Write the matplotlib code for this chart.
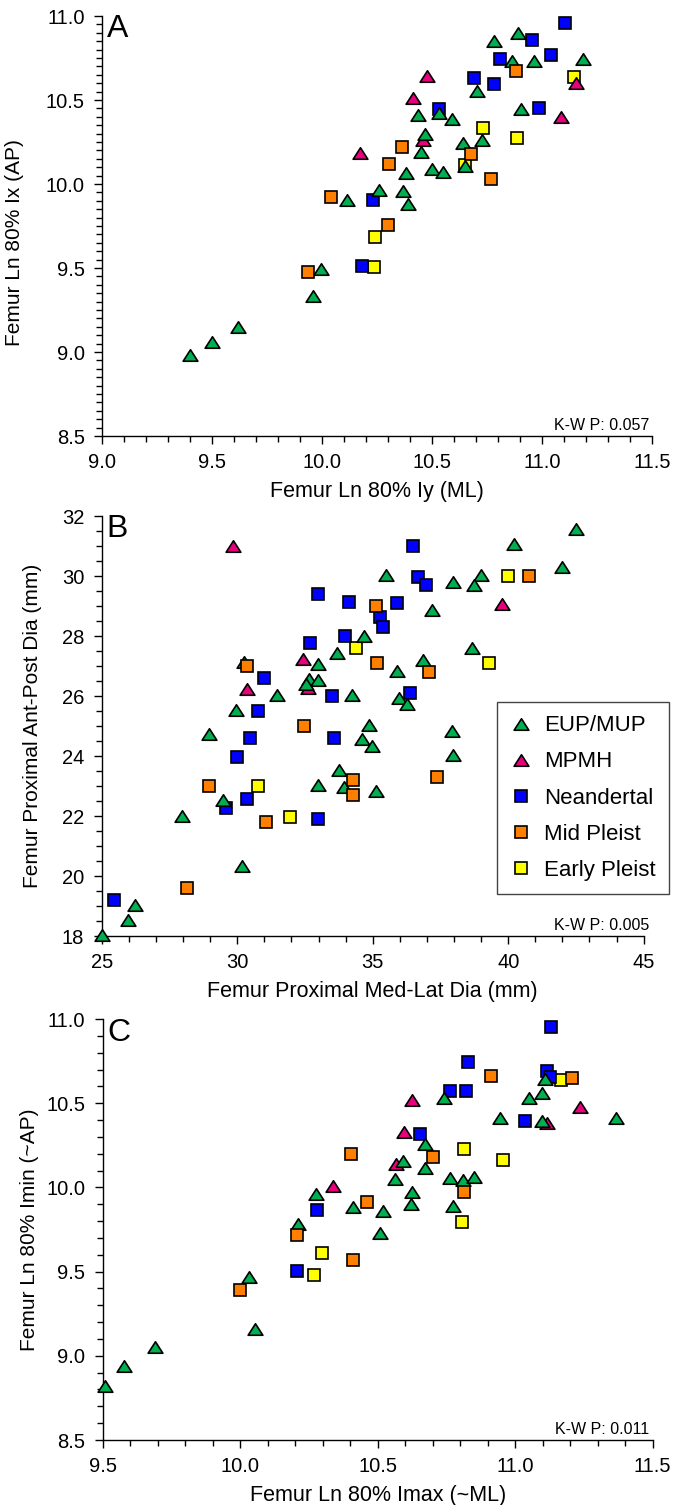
import matplotlib
matplotlib.use("Agg")
import matplotlib.pyplot as plt
from matplotlib.path import Path
from matplotlib.lines import Line2D
from matplotlib.ticker import MultipleLocator

plt.rcParams['font.family'] = ['Liberation Sans', 'DejaVu Sans']

groups = ["EUP/MUP", "MPMH", "Neandertal", "Mid Pleist", "Early Pleist"]

# ---------------- Panel A ----------------
a_eup_x = [10.112, 9.997, 9.959, 9.40, 9.50, 9.62, 10.892, 10.783, 10.862, 10.965, 11.187, 10.705,
           10.438, 10.532, 10.589, 10.904, 10.470, 10.450, 10.639, 10.727, 10.499, 10.552, 10.652,
           10.382, 10.257, 10.367, 10.390]
a_eup_y = [9.904, 9.497, 9.336, 8.98, 9.06, 9.15, 10.897, 10.853, 10.734, 10.732, 10.742, 10.553,
           10.412, 10.420, 10.385, 10.444, 10.295, 10.188, 10.246, 10.261, 10.089, 10.073, 10.108,
           10.063, 9.962, 9.960, 9.882]
a_mpmh_x = [10.172, 10.479, 11.155, 10.413, 11.087, 10.458]
a_mpmh_y = [10.182, 10.645, 10.603, 10.512, 10.397, 10.261]
a_nean_x = [10.231, 10.181, 11.104, 10.956, 10.810, 11.043, 10.692, 10.782, 10.534, 10.986]
a_nean_y = [9.904, 9.513, 10.958, 10.857, 10.742, 10.770, 10.631, 10.595, 10.446, 10.454]
a_mid_x = [10.040, 9.936, 10.883, 10.363, 10.677, 10.304, 10.769, 10.299]
a_mid_y = [9.924, 9.477, 10.672, 10.220, 10.180, 10.117, 10.031, 9.755]
a_early_x = [10.240, 10.235, 11.146, 10.732, 10.886, 10.652]
a_early_y = [9.682, 9.507, 10.635, 10.333, 10.273, 10.111]

# ---------------- Panel B ----------------
b_eup_x = [34.68, 33.67, 32.98, 30.24, 32.64, 32.98, 32.54, 31.48, 34.24, 29.97, 34.87, 28.97,
           34.62, 34.99, 33.77, 32.97, 33.95, 35.11, 29.46, 27.97, 30.18, 26.23, 25.98, 25.0,
           42.49, 40.23, 35.48, 37.97, 39.0, 38.74, 41.97, 37.18, 38.68, 36.87, 35.89, 35.98,
           36.28, 37.94, 37.97]
b_eup_y = [28.0, 27.44, 27.06, 27.12, 26.57, 26.53, 26.4, 26.03, 26.03, 25.53, 25.03, 24.73,
           24.58, 24.33, 23.53, 23.02, 22.98, 22.84, 22.53, 22.01, 20.33, 19.03, 18.53, 18.03,
           31.56, 31.06, 30.03, 29.81, 30.04, 29.7, 30.31, 28.87, 27.61, 27.2, 26.84, 25.94,
           25.73, 24.84, 24.02]
b_mpmh_x = [29.83, 32.42, 32.62, 30.37, 39.78]
b_mpmh_y = [31.0, 27.24, 26.28, 26.24, 29.06]
b_nean_x = [32.98, 34.13, 35.27, 35.37, 33.98, 32.68, 30.98, 33.49, 30.78, 30.48, 33.58, 29.98,
            30.37, 29.58, 32.98, 25.47, 36.48, 36.68, 36.98, 35.89, 36.38]
b_nean_y = [29.39, 29.14, 28.62, 28.3, 28.0, 27.76, 26.59, 26.0, 25.5, 24.59, 24.59, 23.98,
            22.58, 22.28, 21.89, 19.19, 31.0, 29.96, 29.7, 29.09, 26.1]
b_mid_x = [35.13, 30.37, 32.48, 34.27, 34.27, 28.97, 31.07, 28.16, 40.78, 35.17, 37.09, 37.37]
b_mid_y = [29.0, 27.0, 25.0, 23.19, 22.69, 22.99, 21.79, 19.59, 30.0, 27.1, 26.8, 23.31]
b_early_x = [34.37, 30.78, 31.96, 39.98, 39.29]
b_early_y = [27.61, 22.99, 21.98, 30.0, 27.09]

# ---------------- Panel C ----------------
c_eup_x = [10.276, 10.409, 10.519, 10.509, 10.211, 10.033, 10.054, 9.507, 9.576, 9.690, 11.108,
           11.097, 11.051, 11.367, 10.741, 10.944, 11.096, 10.672, 10.593, 10.671, 10.563, 10.763,
           10.809, 10.849, 10.624, 10.621, 10.775]
c_eup_y = [9.963, 9.882, 9.862, 9.728, 9.783, 9.465, 9.158, 8.818, 8.942, 9.052, 10.642,
           10.563, 10.529, 10.414, 10.529, 10.412, 10.395, 10.256, 10.155, 10.118, 10.049, 10.056,
           10.045, 10.062, 9.975, 9.904, 9.892]
c_mpmh_x = [10.339, 11.237, 10.626, 11.115, 10.595, 10.568]
c_mpmh_y = [10.011, 10.480, 10.519, 10.385, 10.329, 10.139]
c_nean_x = [10.278, 10.205, 11.130, 10.829, 11.116, 11.128, 10.764, 10.822, 11.037, 10.655]
c_nean_y = [9.866, 9.504, 10.954, 10.745, 10.693, 10.658, 10.573, 10.573, 10.395, 10.318]
c_mid_x = [10.402, 10.460, 10.205, 10.409, 10.0, 10.912, 11.208, 10.700, 10.815]
c_mid_y = [10.197, 9.912, 9.718, 9.570, 9.393, 10.662, 10.650, 10.179, 9.971]
c_early_x = [10.297, 10.269, 11.167, 10.815, 10.957, 10.808]
c_early_y = [9.609, 9.479, 10.636, 10.228, 10.165, 9.795]

kw_texts = ["K-W P: 0.057", "K-W P: 0.005", "K-W P: 0.011"]
panel_letters = ["A", "B", "C"]
xlabels = ["Femur Ln 80% Iy (ML)", "Femur Proximal Med-Lat Dia (mm)", "Femur Ln 80% Imax (~ML)"]
ylabels = ["Femur Ln 80% Ix (AP)", "Femur Proximal Ant-Post Dia (mm)", "Femur Ln 80% Imin (~AP)"]

# ---------------- styling ----------------
tri = Path([(0, 0.78), (-1, -0.78), (1, -0.78), (0, 0.78)],
           [Path.MOVETO, Path.LINETO, Path.LINETO, Path.CLOSEPOLY])
colors = {"EUP/MUP": "#00B050", "MPMH": "#E8007D", "Neandertal": "#0000FF",
          "Mid Pleist": "#FF7F00", "Early Pleist": "#FFFF00"}
markers = {"EUP/MUP": tri, "MPMH": tri, "Neandertal": "s", "Mid Pleist": "s", "Early Pleist": "s"}
msize = {"EUP/MUP": 10.6, "MPMH": 10.6, "Neandertal": 8.0, "Mid Pleist": 8.0, "Early Pleist": 8.0}
draw_order = ["Early Pleist", "Neandertal", "MPMH", "EUP/MUP", "Mid Pleist"]

W, H = 681, 1505
fig = plt.figure(figsize=(W / 100, H / 100), dpi=100)


def add_axes(l, r, t, b):
    return fig.add_axes([l / W, 1 - b / H, (r - l) / W, (b - t) / H])


axA = add_axes(102, 652, 16, 436)
axB = add_axes(101.7, 643.7, 516, 936)
axC = add_axes(102.7, 652.7, 1019, 1440)

data = [
    {"EUP/MUP": (a_eup_x, a_eup_y), "MPMH": (a_mpmh_x, a_mpmh_y), "Neandertal": (a_nean_x, a_nean_y),
     "Mid Pleist": (a_mid_x, a_mid_y), "Early Pleist": (a_early_x, a_early_y)},
    {"EUP/MUP": (b_eup_x, b_eup_y), "MPMH": (b_mpmh_x, b_mpmh_y), "Neandertal": (b_nean_x, b_nean_y),
     "Mid Pleist": (b_mid_x, b_mid_y), "Early Pleist": (b_early_x, b_early_y)},
    {"EUP/MUP": (c_eup_x, c_eup_y), "MPMH": (c_mpmh_x, c_mpmh_y), "Neandertal": (c_nean_x, c_nean_y),
     "Mid Pleist": (c_mid_x, c_mid_y), "Early Pleist": (c_early_x, c_early_y)},
]

limits = [((9.0, 11.5), (8.5, 11.0)), ((25, 45), (18, 32)), ((9.5, 11.5), (8.5, 11.0))]
majors = [((0.5, 0.1), (0.5, 0.05)), ((5, 1), (2, 0.5)), ((0.5, 0.1), (0.5, 0.1))]
fmts = [("{:.1f}", "{:.1f}"), ("{:.0f}", "{:.0f}"), ("{:.1f}", "{:.1f}")]
ylabel_x = [-0.142, -0.11, -0.115]
ylabel_y = [0.46, 0.5, 0.5]
letter_pos = [(107, 14), (106, 514), (107, 1018)]
kw_pos = [(649, 433), (649, 933), (649, 1437)]

for i, ax in enumerate([axA, axB, axC]):
    for g in draw_order:
        x, y = data[i][g]
        ax.plot(x, y, linestyle="none", marker=markers[g], markersize=msize[g],
                markerfacecolor=colors[g], markeredgecolor="black", markeredgewidth=1.2,
                clip_on=False, zorder=3)
    (x0, x1), (y0, y1) = limits[i]
    ax.set_xlim(x0, x1)
    ax.set_ylim(y0, y1)
    ax.spines["top"].set_visible(False)
    ax.spines["right"].set_visible(False)
    for s in ("left", "bottom"):
        ax.spines[s].set_linewidth(1.0)
    (xm, xn), (ym, yn) = majors[i]
    ax.xaxis.set_major_locator(MultipleLocator(xm))
    ax.xaxis.set_minor_locator(MultipleLocator(xn))
    ax.yaxis.set_major_locator(MultipleLocator(ym))
    ax.yaxis.set_minor_locator(MultipleLocator(yn))
    fx, fy = fmts[i]
    ax.xaxis.set_major_formatter(lambda v, p, f=fx: f.format(v))
    ax.yaxis.set_major_formatter(lambda v, p, f=fy: f.format(v))
    ax.tick_params(which="both", direction="out", width=1.0, labelsize=14.5, pad=7)
    ax.tick_params(which="major", length=5.5)
    ax.tick_params(which="minor", length=4.5)
    ax.set_xlabel(xlabels[i], fontsize=15.5, labelpad=6)
    ax.set_ylabel(ylabels[i], fontsize=15)
    ax.yaxis.set_label_coords(ylabel_x[i], ylabel_y[i])
    lx, ly = letter_pos[i]
    fig.text(lx / W, 1 - ly / H, panel_letters[i], fontsize=23, ha="left", va="top")
    kx, ky = kw_pos[i]
    fig.text(kx / W, 1 - ky / H, kw_texts[i], fontsize=11.5, ha="right", va="bottom")

handles = [Line2D([], [], linestyle="none", marker=markers[g], markersize=msize[g],
                  markerfacecolor=colors[g], markeredgecolor="black", markeredgewidth=1.2)
           for g in groups]
leg = axB.legend(handles, groups, loc="upper left", bbox_to_anchor=(497 / W, 1 - 702 / H),
                 bbox_transform=fig.transFigure, frameon=True, fancybox=False, framealpha=1,
                 edgecolor="#444444", fontsize=16, handlelength=1.0, handletextpad=0.5,
                 labelspacing=0.68, borderpad=0.6, borderaxespad=0)
leg.get_frame().set_linewidth(1.0)

fig.savefig("out.png", dpi=100)
